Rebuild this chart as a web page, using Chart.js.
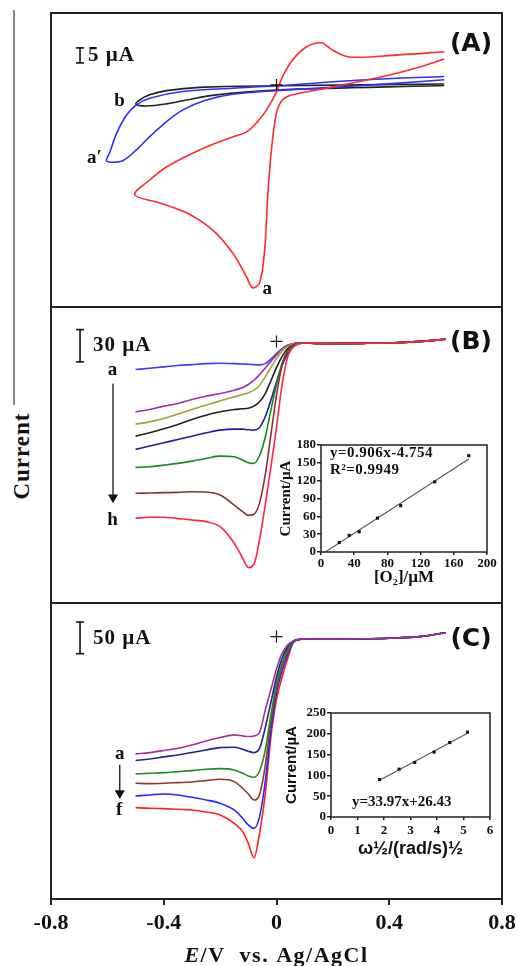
<!DOCTYPE html>
<html>
<head>
<meta charset="utf-8">
<script src="https://cdn.jsdelivr.net/npm/chart.js@4.4.0/dist/chart.umd.min.js"></script>
<style>
  body { margin: 0; background: #fff; width: 517px; height: 966px; position: relative; overflow: hidden; }
  canvas { position: absolute; }
  #edge { position: absolute; left: 13px; top: 10px; width: 1.5px; height: 395px; background: #888; }
  #ylab { position: absolute; left: 22px; top: 456px; transform: translate(-50%, -50%) rotate(-90deg);
          font: bold 23px "Liberation Serif", serif; letter-spacing: 1px; color: #111; white-space: nowrap; }
</style>
</head>
<body>
<div id="edge"></div>
<div id="ylab">Current</div>
<canvas id="panelA" width="471" height="314" style="left:41px;top:3px"></canvas>
<canvas id="panelB" width="471" height="316" style="left:41px;top:297px"></canvas>
<canvas id="panelC" width="540" height="373" style="left:0px;top:593px"></canvas>
<canvas id="insetB" width="235" height="160" style="left:265px;top:435px"></canvas>
<canvas id="insetC" width="232" height="160" style="left:271px;top:703px"></canvas>
<script>
// ---- (A) CVs, each list follows the scan (E in V, I in µA)
const redE = [0.595, 0.435, 0.258, 0.198, 0.159, 0.106, 0.057, 0.021, 0, -0.035, -0.071, -0.106, -0.156, -0.273, -0.389, -0.45, -0.503,
              -0.414, -0.319, -0.227, -0.156, -0.106, -0.085, -0.06, -0.042, -0.032, -0.018, 0, 0.021, 0.057, 0.198, 0.375, 0.496, 0.595];
const redI = [11.0, 10.0, 9.3, 11.6, 14.0, 12.6, 8.3, 2.7, -2.3, -8.3, -12.6, -15.6, -17.3, -21.6, -27.2, -31.6, -36.5,
              -39.2, -42.5, -48.2, -55.8, -63.8, -67.4, -65.8, -54.8, -38.2, -21.6, -9.3, -5.0, -3.3, -0.7, 2.7, 5.6, 8.6];
const blueE = [0.595, 0.318, 0, -0.156, -0.333, -0.45, -0.497, -0.532, -0.567, -0.591, -0.603,
               -0.579, -0.544, -0.497, -0.45, -0.39, -0.332, -0.249, -0.155, 0, 0.198, 0.434, 0.595];
const blueI = [2.8, 1.7, -0.3, -1.1, -2.2, -4.4, -6.6, -10, -16, -22.3, -25.2,
               -25.7, -25.1, -21.6, -17.2, -12.2, -8.3, -5.0, -3.1, -1.9, -0.8, 0.6, 1.7];
const blackE = [0.595, 0, -0.273, -0.39, -0.45, -0.485, -0.499, -0.461, -0.39, -0.32, -0.213, 0, 0.595];
const blackI = [0.3, -0.3, -0.8, -1.9, -3.3, -5.0, -6.4, -7.0, -6.3, -5.0, -3.3, -1.7, -0.2];

// ---- (B) and (C) share the potential grid
const eGrid = [-0.5, -0.45, -0.4, -0.35, -0.3, -0.25, -0.2, -0.15, -0.12, -0.1, -0.08, -0.06, -0.04, -0.02,
               0, 0.02, 0.04, 0.06, 0.08, 0.1, 0.15, 0.2, 0.3, 0.4, 0.5, 0.6];
const bA = [-24.1, -22.9, -21.6, -20.4, -19.5, -18.6, -18.2, -18.6, -18.9, -19.2, -19.5, -19.8, -18.6, -14.5, -9.3, -4.6, -1.5, 0, 0.8, 0.6, 0, 0, 0.2, 0.6, 1.8, 4.0];
const bB = [-63.4, -61.2, -58.1, -55.7, -52.0, -48.9, -46.4, -43.3, -40.8, -38.0, -34.0, -28.8, -22.6, -16.5, -10.5, -4.8, -1.5, 0, 0.8, 0.6, 0, 0, 0.2, 0.6, 1.8, 4.0];
const bC = [-74.8, -72.7, -69.6, -65.5, -61.2, -57.2, -53.2, -49.5, -47.3, -45.8, -43.3, -38.7, -30.9, -22.3, -13.9, -6.8, -2.5, -0.3, 0.8, 0.6, 0, 0, 0.2, 0.6, 1.8, 4.0];
const bD = [-86.0, -82.9, -79.2, -75.1, -70.5, -66.5, -63.4, -61.2, -60.6, -60.0, -58.1, -54.1, -46.4, -34.6, -22.3, -11.8, -4.6, -1.2, 0.5, 0.6, 0, 0, 0.2, 0.6, 1.8, 4.0];
const bE = [-98.3, -95.2, -92.1, -89.1, -86.0, -82.9, -80.4, -79.5, -79.5, -80.1, -80.4, -77.9, -68.0, -52.6, -35.6, -20.1, -9.3, -3.1, 0.3, 0.6, 0, 0, 0.2, 0.6, 1.8, 4.0];
const bF = [-115.0, -114.4, -112.9, -111.3, -109.2, -106.7, -104.5, -105.1, -108.2, -110.7, -111.3, -104, -87, -62, -38, -18, -7, -2, 0, 0.6, 0, 0, 0.2, 0.6, 1.8, 4.0];
const bG = [-139.1, -138.8, -138.5, -138.2, -137.6, -137.9, -140.7, -150.0, -156.2, -159.6, -158.6, -148, -122, -85, -48, -20, -6, -1.5, 0, 0.6, 0, 0, 0.2, 0.6, 1.8, 4.0];
const bH = [-162.3, -161.3, -161.3, -162.6, -163.9, -165.4, -170.1, -185.5, -199.4, -208, -205, -182, -150, -115, -78, -38, -12, -3, 0, 0.6, 0, 0, 0.2, 0.6, 1.8, 4.0];

const cA = [-181.1, -179.0, -175.8, -172.2, -166.9, -160.6, -155.3, -151.1, -152.7, -153.7, -152.7, -147, -112, -80, -47, -22, -9, -2.7, 0, 0.5, 0, 0, 0.5, 1.5, 3.5, 10];
const cB = [-191.6, -189.0, -185.8, -182.7, -179.0, -174.8, -171.1, -170.6, -173.7, -176.9, -179.0, -172, -140, -100, -60, -30, -12, -3, -0.5, 0.5, 0, 0, 0.5, 1.5, 3.5, 10];
const cC = [-212.7, -211.6, -210.6, -209.0, -207.4, -205.3, -204.3, -206.4, -211.6, -215.8, -217.9, -208, -175, -120, -70, -38, -16, -3.5, -0.5, 0.5, 0, 0, 0.5, 1.5, 3.5, 10];
const cD = [-227.4, -227.9, -227.4, -226.4, -225.3, -223.2, -221.1, -224.8, -235.3, -244.3, -253.7, -245, -200, -130, -78, -44, -20, -4, -0.5, 0.5, 0, 0, 0.5, 1.5, 3.5, 10];
const cE = [-247.4, -245.8, -244.3, -245.8, -249.5, -253.7, -258.9, -269.5, -282.7, -293.2, -298.5, -280, -225, -145, -85, -50, -24, -5, -1, 0.5, 0, 0, 0.5, 1.5, 3.5, 10];
const cF = [-265.8, -266.9, -267.4, -268.5, -269.5, -272.7, -277.4, -290.6, -303.7, -322, -345, -306, -245, -155, -95, -60, -30, -5, -1, 0.5, 0, 0, 0.5, 1.5, 3.5, 10];

// ---- insets
const o2Conc = [22, 34, 46, 68, 96, 137, 178];
const o2Current = [16, 28, 34, 57, 78, 118, 162];
const fitB = { slope: 0.906, icept: -4.754, from: 5.25, to: 178 };
const omegaRoot = [1.83, 2.57, 3.16, 3.89, 4.48, 5.15];
const omegaCurrent = [90, 115, 131, 156, 179, 204];
const fitC = { slope: 33.97, icept: 26.43, from: 1.83, to: 5.15 };

const xTicks = [-0.8, -0.4, 0, 0.4, 0.8];

const SERIF = '"Liberation Serif", "Times New Roman", serif';
const SANS = '"Liberation Sans", Arial, sans-serif';

function trace(xs, ys, color, loop) {
  return {
    data: xs.map((x, i) => ({ x: x, y: ys[i] })),
    showLine: true, borderColor: color, borderWidth: 1.6, pointRadius: 0,
    tension: loop ? 0.35 : 0, cubicInterpolationMode: loop ? 'default' : 'monotone'
  };
}
function cross(x, y) {
  return { data: [{ x: x, y: y }], pointStyle: 'cross', pointRadius: 6, borderColor: '#111', pointBorderWidth: 1.2, clip: false };
}
function scaleBar(x, y0, y1) {
  return { data: [{ x: x, y: y0 }, { x: x, y: y1 }], showLine: true, borderColor: '#111', borderWidth: 1.6,
           pointStyle: 'line', pointRadius: 4, pointBorderColor: '#111', pointBorderWidth: 1.6, clip: false };
}
function arrow(x, y0, y1) {
  return { data: [{ x: x, y: y0 }, { x: x, y: y1 }], showLine: true, borderColor: '#111', borderWidth: 1.3,
           pointStyle: 'triangle', rotation: 180, pointRadius: [0, 4.5], pointBackgroundColor: '#111',
           pointBorderColor: '#111', clip: false };
}
function frame(width) {
  return { id: 'frame', afterDraw(chart) {
    const { ctx, chartArea: a } = chart;
    ctx.save(); ctx.strokeStyle = '#222'; ctx.lineWidth = width;
    ctx.strokeRect(a.left, a.top, a.right - a.left, a.bottom - a.top);
    ctx.restore();
  } };
}
function notes(items) {
  return { id: 'notes', afterDatasetsDraw(chart) {
    const { ctx } = chart, sx = chart.scales.x, sy = chart.scales.y;
    ctx.save();
    items.forEach(n => {
      ctx.font = n.font; ctx.fillStyle = '#111';
      ctx.letterSpacing = n.spacing || '0px';
      ctx.textAlign = n.align || 'left'; ctx.textBaseline = 'middle';
      ctx.fillText(n.text, sx.getPixelForValue(n.x), sy.getPixelForValue(n.y));
    });
    ctx.restore();
  } };
}

const lbl = 'bold 19px ' + SERIF;
const tag = 'bold 25px "DejaVu Sans", sans-serif';
const bar = 'bold 21px ' + SERIF;

function panel(id, datasets, yMin, yMax, items, withAxis) {
  const scales = {
    x: { type: 'linear', min: -0.8, max: 0.8, display: false },
    y: { type: 'linear', min: yMin, max: yMax, display: false }
  };
  const plugins = [frame(2), notes(items)];
  let padding = 10;
  if (withAxis) {
    padding = { left: 51, right: 38, top: 10, bottom: 0 };
    scales.x = {
      type: 'linear', min: -0.8, max: 0.8, position: 'bottom',
      afterBuildTicks: s => { s.ticks = xTicks.map(v => ({ value: v })); },
      afterFit: s => { s.height = 67; },
      border: { display: false },
      grid: { drawOnChartArea: false, drawTicks: true, tickLength: 6, color: '#222', lineWidth: 2 },
      ticks: { color: '#111', padding: 5, maxRotation: 0, autoSkip: false,
               font: { family: SERIF, size: 22, weight: 'bold' },
               callback: v => (Math.abs(v) < 1e-9 ? '0' : v.toFixed(1)) }
    };
    plugins.push({ id: 'axisTitle', afterDraw(chart) {
      const ctx = chart.ctx, sx = chart.scales.x;
      const parts = [{ t: 'E', f: 'italic bold 22px ' + SERIF }, { t: '/V  vs. Ag/AgCl', f: 'bold 22px ' + SERIF }];
      ctx.save(); ctx.fillStyle = '#111'; ctx.textBaseline = 'alphabetic'; ctx.textAlign = 'left';
      ctx.letterSpacing = '1.5px';
      let w = 0;
      parts.forEach(p => { ctx.font = p.f; p.w = ctx.measureText(p.t).width; w += p.w; });
      let x = (sx.left + sx.right) / 2 - w / 2;
      parts.forEach(p => { ctx.font = p.f; ctx.fillText(p.t, x, sx.bottom - 4); x += p.w; });
      ctx.restore();
    } });
  }
  return new Chart(document.getElementById(id), {
    type: 'scatter',
    data: { datasets: datasets },
    options: {
      animation: false, responsive: false, devicePixelRatio: 1,
      layout: { padding: padding },
      scales: scales,
      plugins: { legend: { display: false }, tooltip: { enabled: false } }
    },
    plugins: plugins
  });
}

panel('panelA', [
  cross(0, 0),
  scaleBar(-0.697, 7.3, 12.3),
  trace(redE, redI, '#ff2b2b', true),
  trace(blueE, blueI, '#2f2fff', true),
  trace(blackE, blackI, '#222222', true)
], -73.8, 23.9, [
  { text: '5 µA', x: -0.669, y: 9.8, font: bar, spacing: '1px' },
  { text: 'b', x: -0.538, y: -5.5, font: lbl, align: 'right' },
  { text: 'a′', x: -0.62, y: -24.4, font: lbl, align: 'right' },
  { text: 'a', x: -0.05, y: -68, font: lbl },
  { text: '(A)', x: 0.69, y: 13.3, font: tag, align: 'center' }
]);

panel('panelB', [
  cross(0, 2),
  scaleBar(-0.697, 13, -17),
  arrow(-0.58, -37, -143),
  trace(eGrid, bH, '#ff2346'),
  trace(eGrid, bG, '#8a3434'),
  trace(eGrid, bF, '#18891d'),
  trace(eGrid, bE, '#1f1f9e'),
  trace(eGrid, bD, '#222222'),
  trace(eGrid, bC, '#a3a332'),
  trace(eGrid, bB, '#9a30b4'),
  trace(eGrid, bA, '#3c3cff')
], -241, 34, [
  { text: '30 µA', x: -0.651, y: -1.6, font: bar, spacing: '1px' },
  { text: 'a', x: -0.582, y: -24.8, font: lbl, align: 'center' },
  { text: 'h', x: -0.582, y: -164, font: lbl, align: 'center' },
  { text: '(B)', x: 0.69, y: 1.2, font: tag, align: 'center' }
]);

panel('panelC', [
  cross(0, 4),
  scaleBar(-0.697, 27, -23),
  arrow(-0.556, -198, -243),
  trace(eGrid, cA, '#a2309e'),
  trace(eGrid, cB, '#23238f'),
  trace(eGrid, cC, '#1e8c22'),
  trace(eGrid, cD, '#8b3a30'),
  trace(eGrid, cE, '#2525ff'),
  trace(eGrid, cF, '#ff2020')
], -410, 57, [
  { text: '50 µA', x: -0.651, y: 0.5, font: bar, spacing: '1px' },
  { text: 'a', x: -0.556, y: -181, font: lbl, align: 'center' },
  { text: 'f', x: -0.558, y: -270, font: lbl, align: 'center' },
  { text: '(C)', x: 0.69, y: -1.1, font: tag, align: 'center' }
], true);

function inset(id, xs, ys, fit, xr, yr, yWidth, xHeight, padRight, yTitle, xTitle, items) {
  const tickFont = { family: SERIF, size: 13, weight: 'bold' };
  return new Chart(document.getElementById(id), {
    type: 'scatter',
    data: { datasets: [
      { data: xs.map((x, i) => ({ x: x, y: ys[i] })), pointStyle: 'rect', pointRadius: 2.2,
        backgroundColor: '#111', borderColor: '#111', pointBorderWidth: 0 },
      { data: [fit.from, fit.to].map(x => ({ x: x, y: fit.slope * x + fit.icept })), showLine: true,
        borderColor: '#555', borderWidth: 1.1, pointRadius: 0 }
    ] },
    options: {
      animation: false, responsive: false, devicePixelRatio: 1,
      layout: { padding: { left: 0, right: padRight, top: 10, bottom: 0 } },
      scales: {
        x: { type: 'linear', min: xr[0], max: xr[1], afterFit: s => { s.height = xHeight; },
             border: { display: false },
             grid: { drawOnChartArea: false, tickLength: 3, color: '#222', lineWidth: 1.5 },
             ticks: { stepSize: xr[2], color: '#111', padding: xr[3], font: tickFont, maxRotation: 0, autoSkip: false },
             title: { display: true, text: xTitle.text, color: '#111', font: xTitle.font, padding: { top: 0, bottom: xTitle.pad } } },
        y: { type: 'linear', min: yr[0], max: yr[1], afterFit: s => { s.width = yWidth; },
             border: { display: false },
             grid: { drawOnChartArea: false, tickLength: 4, color: '#222', lineWidth: 1.5 },
             ticks: { stepSize: yr[2], color: '#111', padding: 1, font: tickFont, autoSkip: false },
             title: { display: true, text: yTitle.text, color: '#111', font: yTitle.font, padding: { top: 12, bottom: 0 } } }
      },
      plugins: { legend: { display: false }, tooltip: { enabled: false } }
    },
    plugins: [frame(1.5), notes(items)]
  });
}

inset('insetB', o2Conc, o2Current, fitB, [0, 200, 40, 1], [0, 180, 30], 56, 43, 13,
  { text: 'Current/µA', font: { family: SERIF, size: 15, weight: 'bold' } },
  { text: '[O₂]/µM', font: { family: SERIF, size: 17, weight: 'bold' }, pad: 7 },
  [
    { text: 'y=0.906x-4.754', x: 10.8, y: 166, font: 'bold 15px ' + SERIF, spacing: '0.5px' },
    { text: 'R²=0.9949', x: 10.8, y: 138, font: 'bold 15px ' + SERIF, spacing: '0.5px' }
  ]);

inset('insetC', omegaRoot, omegaCurrent, fitC, [0, 6, 1, 3], [0, 250, 50], 60, 46, 13,
  { text: 'Current/µA', font: { family: SANS, size: 15, weight: 'bold' } },
  { text: 'ω½/(rad/s)½', font: { family: SANS, size: 18, weight: 'bold' }, pad: 3 },
  [
    { text: 'y=33.97x+26.43', x: 0.79, y: 36, font: 'bold 15px ' + SERIF }
  ]);
</script>
</body>
</html>
